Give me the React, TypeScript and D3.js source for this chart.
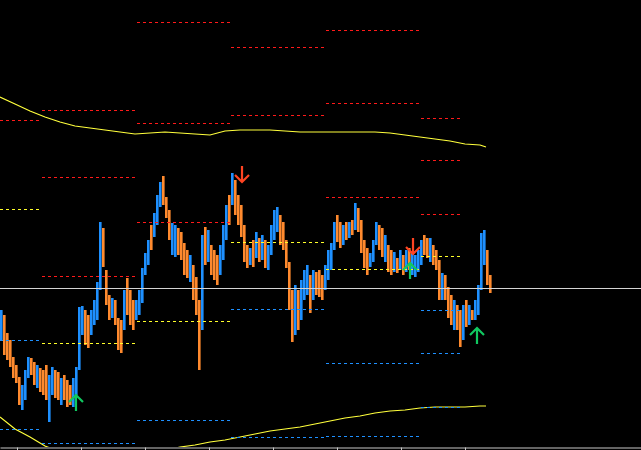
import React, { useRef, useEffect } from 'react';
import * as d3 from 'd3';

const W = 641;
const H = 450;
const PLOT_BOTTOM = 447;

// one entry per bar (3px per bar on screen)
const barHigh = [
	1.114, 1.1135, 1.1117, 1.111, 1.1093, 1.1085, 1.1073, 1.1065, 1.108, 1.1093,
	1.1092, 1.1088, 1.1085, 1.1082, 1.108, 1.1085, 1.1075, 1.1083, 1.108, 1.1078,
	1.1072, 1.1075, 1.107, 1.1065, 1.1072, 1.1083, 1.1143, 1.1144, 1.114, 1.1135,
	1.114, 1.115, 1.1168, 1.1228, 1.1222, 1.118, 1.1155, 1.1152, 1.115, 1.1132,
	1.113, 1.116, 1.1172, 1.116, 1.115, 1.115, 1.116, 1.1182, 1.1197, 1.121,
	1.1225, 1.1237, 1.1255, 1.1268, 1.1274, 1.1253, 1.124, 1.1227, 1.1225, 1.1222,
	1.1218, 1.1207, 1.12, 1.1195, 1.1185, 1.1173, 1.115, 1.1215, 1.1223, 1.122,
	1.1205, 1.12, 1.1195, 1.1205, 1.1225, 1.1245, 1.1255, 1.1277, 1.127, 1.1255,
	1.1245, 1.1225, 1.1205, 1.1202, 1.121, 1.1218, 1.1212, 1.1215, 1.121, 1.1205,
	1.1225, 1.124, 1.1243, 1.1235, 1.1228, 1.121, 1.1188, 1.116, 1.1165, 1.116,
	1.117, 1.118, 1.1185, 1.1175, 1.118, 1.1178, 1.118, 1.1175, 1.1185, 1.12,
	1.1207, 1.1228, 1.1235, 1.1228, 1.1225, 1.1228, 1.1228, 1.123, 1.1247, 1.1242,
	1.123, 1.121, 1.1202, 1.1197, 1.121, 1.1228, 1.1225, 1.1222, 1.1215, 1.1205,
	1.12, 1.1198, 1.1192, 1.12, 1.1195, 1.12, 1.1202, 1.1198, 1.1195, 1.12,
	1.121, 1.1215, 1.1212, 1.1212, 1.1205, 1.12, 1.119, 1.1177, 1.1175, 1.1163,
	1.1155, 1.115, 1.1145, 1.114, 1.1145, 1.115, 1.1145, 1.114, 1.115, 1.1165,
	1.1217, 1.122, 1.12, 1.1175,
];

const barLow = [
	1.111, 1.1095, 1.109, 1.1083, 1.1072, 1.1067, 1.1045, 1.104, 1.105, 1.1072,
	1.1075, 1.1065, 1.1062, 1.1058, 1.1055, 1.105, 1.1028, 1.1055, 1.1052, 1.105,
	1.1045, 1.105, 1.1043, 1.1045, 1.1043, 1.1055, 1.108, 1.1115, 1.1105, 1.1102,
	1.1115, 1.1125, 1.113, 1.116, 1.1183, 1.1145, 1.113, 1.1132, 1.1125, 1.11,
	1.1097, 1.112, 1.1135, 1.1125, 1.112, 1.113, 1.1135, 1.1147, 1.1175, 1.1185,
	1.12, 1.1213, 1.1225, 1.1243, 1.1245, 1.1232, 1.121, 1.1195, 1.1193, 1.1195,
	1.119, 1.1175, 1.1172, 1.1168, 1.115, 1.1135, 1.108, 1.112, 1.1185, 1.1188,
	1.1175, 1.117, 1.1165, 1.1175, 1.119, 1.121, 1.1225, 1.1245, 1.1235, 1.1225,
	1.1213, 1.1188, 1.1182, 1.1185, 1.1183, 1.1192, 1.1188, 1.119, 1.1182, 1.118,
	1.1195, 1.121, 1.1218, 1.1205, 1.12, 1.1182, 1.114, 1.1108, 1.1115, 1.112,
	1.113, 1.115, 1.1155, 1.1137, 1.115, 1.1155, 1.1153, 1.115, 1.116, 1.117,
	1.118, 1.12, 1.1208, 1.1202, 1.1205, 1.121, 1.1212, 1.1215, 1.122, 1.1218,
	1.1197, 1.1182, 1.1175, 1.1183, 1.1188, 1.1205, 1.12, 1.1193, 1.1188, 1.1178,
	1.1175, 1.1178, 1.1177, 1.118, 1.1175, 1.1178, 1.118, 1.1175, 1.1173, 1.1178,
	1.1185, 1.1195, 1.1192, 1.1188, 1.1185, 1.118, 1.115, 1.115, 1.115, 1.1132,
	1.1125, 1.112, 1.112, 1.1103, 1.111, 1.1123, 1.1125, 1.113, 1.113, 1.1135,
	1.116, 1.1185, 1.1165, 1.1157,
];

// 1 = bull bar (blue), 0 = bear bar (orange)
const barUp = [
	1, 0, 0, 0, 0, 0, 0, 1, 1, 1,
	0, 0, 1, 0, 0, 0, 1, 1, 0, 0,
	1, 0, 0, 0, 1, 1, 1, 1, 0, 0,
	1, 1, 1, 1, 0, 0, 0, 1, 0, 0,
	0, 1, 0, 0, 0, 1, 1, 1, 1, 1,
	0, 1, 1, 1, 0, 0, 0, 1, 1, 0,
	0, 0, 0, 1, 0, 0, 0, 1, 0, 1,
	0, 0, 0, 1, 1, 1, 0, 1, 0, 0,
	0, 0, 0, 1, 0, 1, 0, 1, 0, 1,
	1, 1, 1, 0, 0, 0, 0, 0, 1, 0,
	1, 1, 1, 0, 1, 0, 0, 0, 1, 1,
	1, 1, 0, 0, 1, 0, 1, 0, 1, 0,
	0, 0, 0, 1, 1, 1, 0, 0, 1, 0,
	0, 1, 0, 1, 0, 1, 0, 1, 1, 1,
	1, 0, 0, 1, 0, 0, 0, 1, 0, 0,
	0, 1, 0, 0, 1, 0, 1, 0, 1, 1,
	1, 1, 0, 0,
];

// pivot periods, in bar units
const periodStart = [-20, 14, 45.67, 77, 108.67, 140.33];
const periodEnd = [13.33, 45, 76.67, 108, 139.67, 154.33];

const levelR3 = [null, 1.134, 1.1428, null, 1.142, 1.1332];
const levelR2 = [null, 1.1273, 1.1327, 1.1403, 1.1347, 1.129];
const levelR1 = [1.133, 1.1174, 1.1228, 1.1335, 1.1253, 1.1236];
const levelPP = [1.1241, 1.1107, 1.1129, 1.1208, 1.1181, 1.1194];
const levelS1 = [1.111, 1.1007, 1.103, 1.1141, 1.1087, 1.114];
const levelS2 = [1.1021, null, null, 1.1013, 1.1014, 1.1097];
const levelS3 = [null, null, null, null, null, 1.1043];

const bidPrice = 1.1162;

const timeTicks = [5.67, 27, 48.33, 69.67, 91, 112.33, 133.67, 155];

// higher timeframe envelope
const bandIdx = [
	0, 5, 10, 15, 20, 25, 30, 35, 40, 45, 50, 55, 60, 65, 70, 75, 80,
	85, 90, 95, 100, 105, 110, 115, 120, 125, 130, 135, 140, 145, 150, 155, 160, 162,
];
const bandUpper = [
	1.1353, 1.1346, 1.1339, 1.1333, 1.1328, 1.1324, 1.1322, 1.132, 1.1318, 1.1316,
	1.1317, 1.1318, 1.1317, 1.1316, 1.1315, 1.1319, 1.132, 1.132, 1.132, 1.1319,
	1.1318, 1.1318, 1.1318, 1.1318, 1.1318, 1.1318, 1.1317, 1.1315, 1.1313, 1.1311,
	1.1309, 1.1306, 1.1305, 1.1303,
];
const bandLower = [
	1.1033, 1.1021, 1.1013, 1.1004, 1.0998, 1.0993, 1.0989, 1.0987, 1.0987, 1.0989,
	1.0993, 1.0999, 1.1003, 1.1005, 1.1008, 1.101, 1.1013, 1.1016, 1.1019, 1.1021,
	1.1023, 1.1026, 1.1029, 1.1032, 1.1034, 1.1037, 1.1039, 1.104, 1.1042, 1.1043,
	1.1043, 1.1043, 1.1044, 1.1044,
];

const sellIdx = [80.67, 137.67];
const sellPrice = [1.1268, 1.1196];
const buyIdx = [25.33, 136.67, 159];
const buyPrice = [1.1055, 1.1187, 1.1122];

const App: React.FC = () => {
	const svgRef = useRef<SVGSVGElement | null>(null);

	useEffect(() => {
		document.body.style.margin = '0';
		const svg = d3.select(svgRef.current);
		svg.selectAll('*').remove();

		const x = d3.scaleLinear().domain([0, W / 3]).range([0, W]);
		const y = d3.scaleLinear().domain([1.1, 1.145]).range([H, 0]);

		svg.append('rect').attr('width', W).attr('height', H).attr('fill', '#000');

		svg.append('defs')
			.append('clipPath')
			.attr('id', 'plot')
			.append('rect')
			.attr('width', W)
			.attr('height', PLOT_BOTTOM);

		const plot = svg.append('g').attr('clip-path', 'url(#plot)');

		// envelope
		const band = d3
			.line<number>()
			.x((_, i) => x(bandIdx[i]))
			.y((d) => y(d));
		[bandUpper, bandLower].forEach((b) => {
			plot.append('path')
				.datum(b)
				.attr('d', band)
				.attr('fill', 'none')
				.attr('stroke', '#ffff3c')
				.attr('stroke-width', 1.2);
		});

		// bars
		plot.append('g')
			.selectAll('rect')
			.data(barHigh)
			.join('rect')
			.attr('x', (_, i) => x(i))
			.attr('width', 2.6)
			.attr('y', (d) => y(d))
			.attr('height', (d, i) => Math.max(1, y(barLow[i]) - y(d)))
			.attr('fill', (_, i) => (barUp[i] ? '#1e90ff' : '#ff8a2e'));

		// pivot levels
		const levels: [(number | null)[], string][] = [
			[levelR3, '#ff1a1a'],
			[levelR2, '#ff1a1a'],
			[levelR1, '#ff1a1a'],
			[levelPP, '#ffff2a'],
			[levelS1, '#1e90ff'],
			[levelS2, '#1e90ff'],
			[levelS3, '#1e90ff'],
		];
		levels.forEach(([vals, color]) => {
			vals.forEach((v, k) => {
				if (v == null) return;
				const yy = Math.round(y(v)) + 0.5;
				plot.append('line')
					.attr('x1', Math.max(0, x(periodStart[k])))
					.attr('x2', x(periodEnd[k]))
					.attr('y1', yy)
					.attr('y2', yy)
					.attr('stroke', color)
					.attr('stroke-width', 1)
					.attr('stroke-dasharray', '3,3');
			});
		});

		// bid line
		const yb = Math.round(y(bidPrice)) + 0.5;
		plot.append('line')
			.attr('x1', 0)
			.attr('x2', W)
			.attr('y1', yb)
			.attr('y2', yb)
			.attr('stroke', '#d4d4d4')
			.attr('stroke-width', 1);

		// signal arrows
		const arrow = (cx: number, cy: number, dir: number) => {
			const p = d3.path();
			p.moveTo(cx, cy);
			p.lineTo(cx, cy - 16 * dir);
			p.moveTo(cx - 7, cy - 7 * dir);
			p.lineTo(cx, cy);
			p.lineTo(cx + 7, cy - 7 * dir);
			return p.toString();
		};
		sellIdx.forEach((idx, k) => {
			plot.append('path')
				.attr('d', arrow(x(idx), y(sellPrice[k]), 1))
				.attr('fill', 'none')
				.attr('stroke', '#ff4422')
				.attr('stroke-width', 2.2);
		});
		buyIdx.forEach((idx, k) => {
			plot.append('path')
				.attr('d', arrow(x(idx), y(buyPrice[k]), -1))
				.attr('fill', 'none')
				.attr('stroke', '#10c860')
				.attr('stroke-width', 2.2);
		});

		// time axis
		const axis = svg
			.append('g')
			.attr('transform', `translate(0,${PLOT_BOTTOM + 0.5})`)
			.call(
				d3
					.axisBottom(x)
					.tickValues(timeTicks)
					.tickFormat(() => '')
					.tickSize(4)
					.tickSizeOuter(0)
			);
		axis.select('.domain').attr('stroke', '#c8c8c8');
		axis.selectAll('.tick line').attr('stroke', '#c8c8c8');
	}, []);

	return (
		<svg
			ref={svgRef}
			width={W}
			height={H}
			style={{ display: 'block', position: 'fixed', left: 0, top: 0 }}
		/>
	);
};

export default App;
